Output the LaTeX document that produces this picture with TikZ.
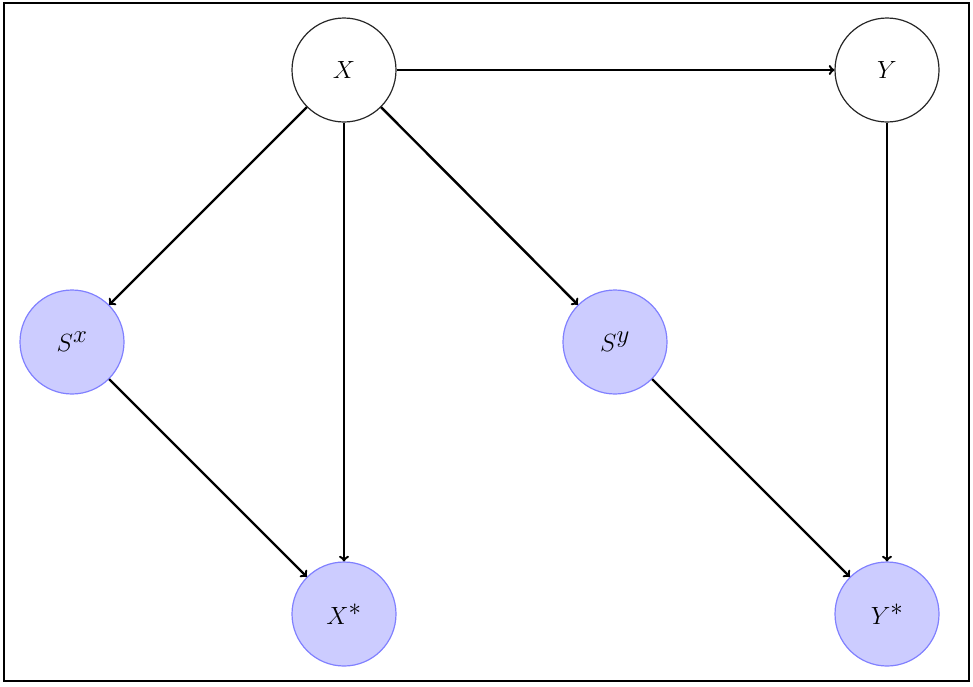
\documentclass[tikz,border=0pt]{standalone}
\begin{document}
\begin{tikzpicture}[x=1pt,y=-1pt,
  vnode/.style={circle,draw=black!85,line width=1.2pt,minimum size=104pt,inner sep=0pt,font=\fontsize{38}{44}\selectfont},
  snode/.style={vnode,draw=blue!50,fill=blue!20},
  edge/.style={->,line width=2.4pt}]
\useasboundingbox (0,0) rectangle (973,686);
\draw[line width=2pt] (4,3) rectangle (969,681);
\node[vnode] (X) at (344,70) {$X$};
\node[vnode] (Y) at (887,70) {$Y$};
\node[snode] (Sx) at (72,342) {$S^x$};
\node[snode] (Sy) at (615,342) {$S^y$};
\node[snode] (Xs) at (344,614) {$X^*$};
\node[snode] (Ys) at (887,614) {$Y^*$};
\draw[edge] (X) -- (Y);
\draw[edge] (X) -- (Sx);
\draw[edge] (X) -- (Xs);
\draw[edge] (X) -- (Sy);
\draw[edge] (Sx) -- (Xs);
\draw[edge] (Sy) -- (Ys);
\draw[edge] (Y) -- (Ys);
\end{tikzpicture}
\end{document}
